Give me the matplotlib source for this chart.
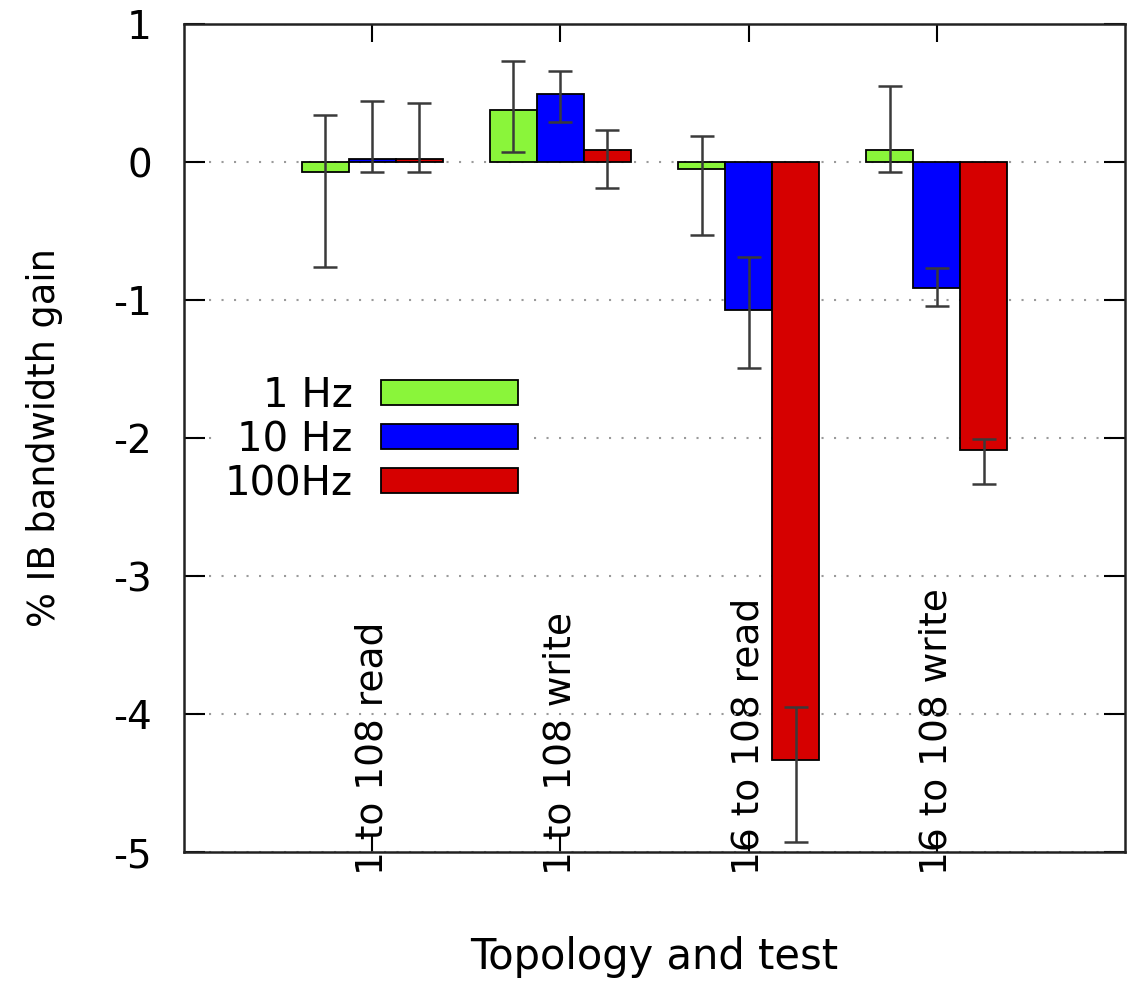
import matplotlib.pyplot as plt
import numpy as np

# data
categories = ["1 to 108 read", "1 to 108 write", "16 to 108 read", "16 to 108 write"]
series_labels = ["1 Hz", "10 Hz", "100Hz"]
series_colors = ["#8af53a", "#0000ff", "#d60000"]

gain_1hz = [-0.07, 0.38, -0.05, 0.09]
gain_10hz = [0.02, 0.49, -1.07, -0.91]
gain_100hz = [0.02, 0.09, -4.33, -2.09]

# error bar ends (low, high)
low_1hz = [-0.76, 0.07, -0.53, -0.07]
high_1hz = [0.34, 0.73, 0.19, 0.55]
low_10hz = [-0.07, 0.29, -1.49, -1.04]
high_10hz = [0.44, 0.66, -0.69, -0.77]
low_100hz = [-0.07, -0.19, -4.93, -2.33]
high_100hz = [0.43, 0.23, -3.95, -2.01]

y_ticks = [1, 0, -1, -2, -3, -4, -5]

fig = plt.figure(figsize=(11.3, 9.83), dpi=100)
ax = fig.add_axes([184 / 1130, 1 - 852 / 983, (1125 - 184) / 1130, (852 - 24) / 983])

x = np.arange(len(categories))
width = 0.25
values = [gain_1hz, gain_10hz, gain_100hz]
lows = [low_1hz, low_10hz, low_100hz]
highs = [high_1hz, high_10hz, high_100hz]

for i, (vals, lo, hi) in enumerate(zip(values, lows, highs)):
    vals = np.asarray(vals)
    yerr = np.vstack((vals - np.asarray(lo), np.asarray(hi) - vals))
    ax.bar(
        x + (i - 1) * width, vals, width,
        color=series_colors[i], edgecolor="black", linewidth=1.3,
        label=series_labels[i], zorder=2
    )
    ax.errorbar(
        x + (i - 1) * width, vals, yerr=yerr, fmt="none",
        ecolor="#3a3a3a", elinewidth=1.8, capsize=8.5, capthick=1.8, zorder=3
    )

ax.set_xlim(-1, 4)
ax.set_ylim(-5, 1)
ax.set_yticks(y_ticks)
ax.set_yticklabels([str(t) for t in y_ticks], fontsize=28)
ax.set_xticks(x)
ax.set_xticklabels(categories, rotation=90, fontsize=27, va="bottom", ha="center")

ax.tick_params(axis="x", direction="in", length=13, width=1.5, top=True, pad=16.5)
ax.tick_params(axis="y", direction="in", length=15, width=1.5, right=True, pad=23)

ax.yaxis.grid(True, linestyle=(0, (1, 5)), color="#9a9a9a", linewidth=1.5, zorder=0)
ax.set_axisbelow(True)

for spine in ax.spines.values():
    spine.set_linewidth(1.8)
    spine.set_color("#222222")

ax.set_ylabel("% IB bandwidth gain", fontsize=26.5, labelpad=36)
ax.set_xlabel("Topology and test", fontsize=30, labelpad=44)

leg = ax.legend(
    loc="center right", bbox_to_anchor=(526 / 1130, 1 - 440 / 983),
    bbox_transform=fig.transFigure, fontsize=29, markerfirst=False,
    handlelength=3.4, handleheight=0.58, handletextpad=0.7,
    labelspacing=0.1, borderpad=0.2, borderaxespad=0,
    frameon=True, fancybox=False, edgecolor="none", facecolor="white", framealpha=1
)
for txt in leg.get_texts():
    txt.set_ha("right")

fig.savefig("out.png", dpi=100)
